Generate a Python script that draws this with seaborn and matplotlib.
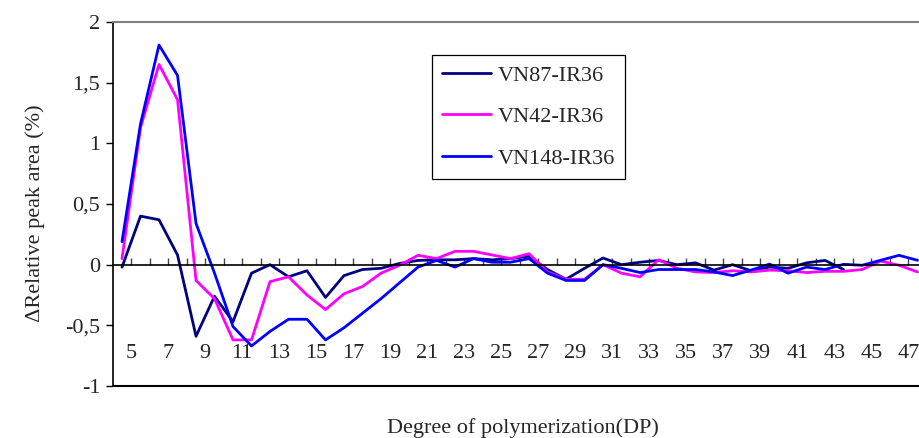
import numpy as np
import pandas as pd
import seaborn as sns
import matplotlib
matplotlib.use("Agg")
import matplotlib.pyplot as plt

# degree of polymerization for each point
dp = list(range(4, 48))

vn87 = [-0.02, 0.40, 0.37, 0.08, -0.59, -0.26, -0.47, -0.07, 0.00, -0.10,
        -0.05, -0.27, -0.09, -0.04, -0.03, 0.01, 0.035, 0.04, 0.04, 0.05,
        0.04, 0.05, 0.07, -0.04, -0.12, -0.03, 0.055, 0.00, 0.02, 0.035,
        0.00, 0.015, -0.045, 0.00, -0.05, -0.02, -0.03, 0.015, 0.035, -0.04]
vn42 = [0.05, 1.13, 1.65, 1.36, -0.13, -0.28, -0.62, -0.62, -0.14, -0.10,
        -0.25, -0.37, -0.24, -0.18, -0.07, -0.005, 0.077, 0.05, 0.11, 0.11,
        0.08, 0.05, 0.09, -0.06, -0.12, -0.12, 0.00, -0.07, -0.10, 0.04,
        -0.03, -0.06, -0.065, -0.05, -0.06, -0.045, -0.05, -0.065, -0.055, -0.055,
        -0.04, 0.03, -0.005, -0.06]
vn148 = [0.19, 1.16, 1.81, 1.56, 0.34, -0.07, -0.51, -0.67, -0.55, -0.45,
         -0.45, -0.62, -0.52, -0.40, -0.28, -0.15, -0.02, 0.035, -0.02, 0.05,
         0.02, 0.02, 0.05, -0.07, -0.13, -0.13, 0.00, -0.03, -0.065, -0.04,
         -0.04, -0.04, -0.06, -0.09, -0.045, 0.005, -0.07, -0.02, -0.04, 0.003,
         -0.005, 0.036, 0.077, 0.036]

series_names = ["VN87-IR36", "VN42-IR36", "VN148-IR36"]
colors = ["#000080", "#FF00FF", "#0000FF"]

x_labels = [str(k) for k in range(5, 48, 2)]
y_ticks = [-1, -0.5, 0, 0.5, 1, 1.5, 2]
y_labels = ["-1", "-0,5", "0", "0,5", "1", "1,5", "2"]

# long form table
frames = []
for name, vals in zip(series_names, [vn87, vn42, vn148]):
    frames.append(pd.DataFrame({"dp": dp[:len(vals)], "value": vals, "series": name}))
df = pd.concat(frames, ignore_index=True)

sns.set_style("white")
plt.rcParams["font.family"] = ["Liberation Serif", "DejaVu Serif"]

fig = plt.figure(figsize=(9.19, 4.38), dpi=100)
ax = fig.add_axes([0.1227, 0.1187, 0.8878, 0.8311])

sns.lineplot(data=df, x="dp", y="value", hue="series", hue_order=series_names,
             palette=colors, linewidth=2, ax=ax, legend=False)

ax.set_xlim(3.5, 47.6)
ax.set_ylim(-1, 2)

# spines: x axis crosses at 0, gray top border, black bottom border
ax.spines["bottom"].set_position(("data", 0))
ax.spines["bottom"].set_color("black")
ax.spines["bottom"].set_linewidth(1.2)
ax.spines["left"].set_color("black")
ax.spines["left"].set_linewidth(1.2)
ax.spines["top"].set_color("#808080")
ax.spines["top"].set_linewidth(1.5)
ax.spines["right"].set_visible(False)
ax.axhline(-1, color="black", lw=1.5, clip_on=False)

ax.set_xticks([int(k) - 0.5 for k in x_labels])
ax.set_xticklabels(x_labels)
ax.set_xticks([int(k) + 0.5 for k in x_labels], minor=True)
ax.tick_params(axis="x", which="both", direction="in", length=5, width=1,
               color="#444444", labelsize=16, pad=57, bottom=True)
ax.set_yticks(y_ticks)
ax.set_yticklabels(y_labels)
ax.tick_params(axis="y", direction="out", length=5, width=1, color="black",
               labelsize=16, pad=4, left=True)

ax.set_xlabel("Degree of polymerization(DP)", fontsize=16)
ax.xaxis.set_label_coords(0.503, -0.087)
ax.set_ylabel("ΔRelative peak area (%)", fontsize=16)
ax.yaxis.set_label_coords(-0.083, 0.475)

handles = [plt.Line2D([], [], color=c, lw=2) for c in colors]
leg = ax.legend(handles, series_names, loc="upper left",
                bbox_to_anchor=(432 / 919, 1 - 55 / 438), bbox_transform=fig.transFigure,
                fontsize=16, frameon=True, fancybox=False, framealpha=1,
                edgecolor="black", borderpad=0.45, handlelength=2.2,
                handletextpad=0.3, labelspacing=0.95, borderaxespad=0)
leg.get_frame().set_linewidth(0.9)

fig.savefig("out.png", dpi=100)
